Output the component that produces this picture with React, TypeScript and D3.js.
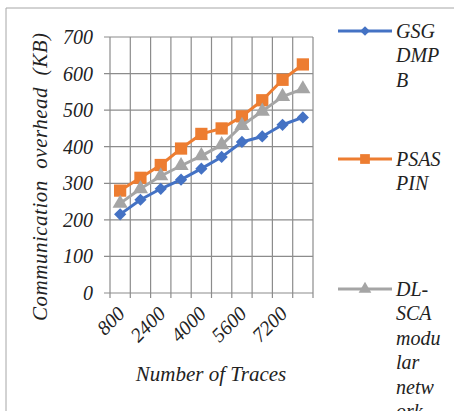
import React from 'react'
import * as d3 from 'd3'

const traces = ['800', '1600', '2400', '3200', '4000', '4800', '5600', '6400', '7200', '8000']
const gsgDmpb = [215, 255, 285, 310, 340, 372, 413, 428, 460, 480]
const psasPin = [280, 315, 350, 395, 435, 450, 483, 527, 583, 625]
const dlSca = [245, 285, 320, 348, 375, 405, 458, 497, 537, 558]
const yTicks = [0, 100, 200, 300, 400, 500, 600, 700]
const shownLabels = ['800', '2400', '4000', '5600', '7200']

const series = [
  { name: ['GSG', 'DMP', 'B'], values: gsgDmpb, color: '#4472C4', symbol: d3.symbolDiamond2, size: 95, legendY: 31, legendSize: 60 },
  { name: ['PSAS', 'PIN'], values: psasPin, color: '#ED7D31', symbol: d3.symbolSquare, size: 150, legendY: 159, legendSize: 95 },
  { name: ['DL-', 'SCA', 'modu', 'lar', 'netw', 'ork'], values: dlSca, color: '#A5A5A5', symbol: d3.symbolTriangle, size: 100, legendY: 289, legendSize: 70 },
]

const W = 454
const H = 411
const txt = { fontFamily: 'Liberation Serif', fontStyle: 'italic' as const, fontSize: '20px' }

const App = () => {
  const left = 110, right = 313, top = 37, bottom = 293
  const x = d3.scaleBand().domain(traces).range([left, right])
  const y = d3.scaleLinear().domain([0, 700]).range([bottom, top])
  const line = d3.line<number>()
    .x((d, i) => x(traces[i])! + x.bandwidth() / 2)
    .y((d) => y(d))
  const grid = '#8c8c8c'
  const boundaries = traces.map((t) => x(t)!).concat([right])

  return (
    <svg width={W} height={H} style={{ position: 'fixed', left: 0, top: 0 }}>
      <rect x={0} y={0} width={W} height={H} fill="#fff" />
      <line x1={6} y1={8} x2={W} y2={8} stroke="#a6a6a6" />
      <line x1={6} y1={8} x2={6} y2={H} stroke="#a6a6a6" />

      {yTicks.map((t) => (
        <g key={t}>
          <line x1={left - 6} x2={right} y1={y(t)} y2={y(t)} stroke={grid} strokeWidth={1.2} />
          <text x={93} y={y(t)} dy="0.35em" textAnchor="end" style={txt} fill="#222">{t}</text>
        </g>
      ))}
      {boundaries.map((b, i) => (
        <line key={i} x1={b} x2={b} y1={top} y2={bottom + 5} stroke={grid} strokeWidth={1.2} />
      ))}

      {shownLabels.map((l) => (
        <text key={l} transform={`translate(${x(l)! + x.bandwidth() / 2 + 1},${bottom + 17}) rotate(-45)`}
          textAnchor="end" dy="0.35em" style={txt} fill="#222">{l}</text>
      ))}

      <text x={211} y={381} textAnchor="middle" style={{ ...txt, fontSize: '21px' }} fill="#222">Number of Traces</text>
      <text transform={`translate(47,177) rotate(-90)`} textAnchor="middle" style={{ ...txt, fontSize: '21px', whiteSpace: 'pre' }}
        textLength={288} lengthAdjust="spacing" fill="#222">
        {'Communication  overhead  (KB)'}
      </text>

      {series.map((s) => (
        <g key={s.color}>
          <path d={line(s.values)!} fill="none" stroke={s.color} strokeWidth={3} strokeLinejoin="round" />
          {s.values.map((v, i) => (
            <path key={i} d={d3.symbol(s.symbol, s.size)()!}
              transform={`translate(${x(traces[i])! + x.bandwidth() / 2},${y(v)})`} fill={s.color} />
          ))}
        </g>
      ))}

      {series.map((s) => (
        <g key={'lg' + s.color}>
          <line x1={338} x2={392} y1={s.legendY} y2={s.legendY} stroke={s.color} strokeWidth={3} />
          <path d={d3.symbol(s.symbol, s.legendSize)()!} transform={`translate(365,${s.legendY})`} fill={s.color} />
          {s.name.map((n, j) => (
            <text key={j} x={396} y={s.legendY + 7 + j * 24.4} style={txt} fill="#222">{n}</text>
          ))}
        </g>
      ))}
    </svg>
  )
}

export default App
